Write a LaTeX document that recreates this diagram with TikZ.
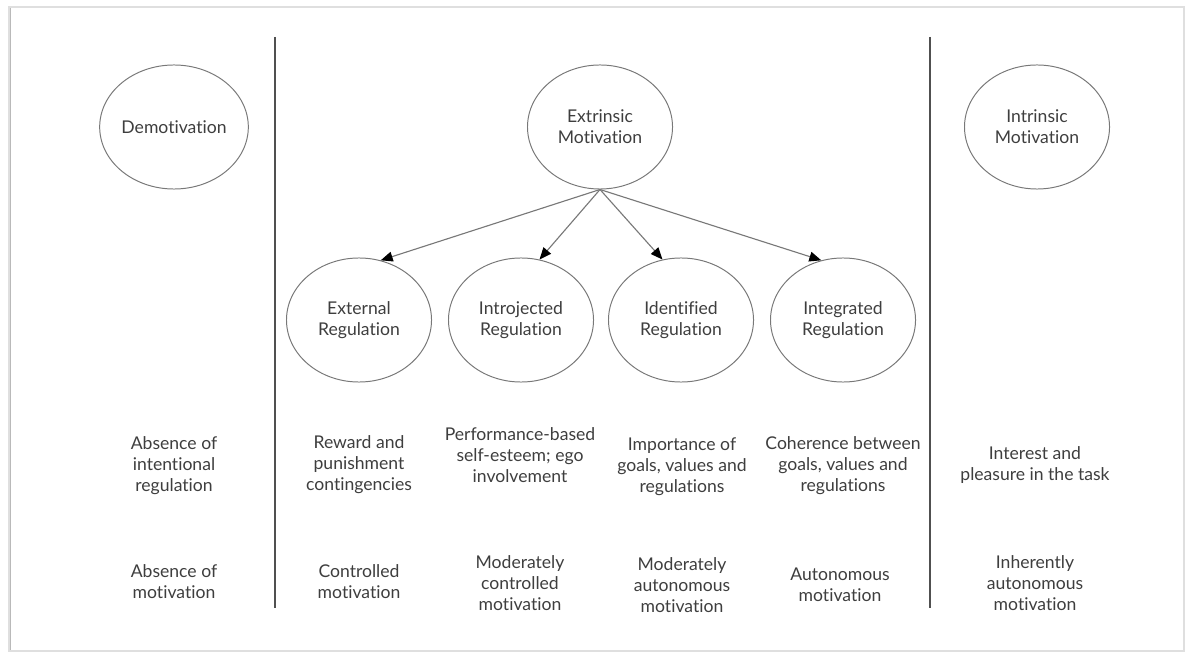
\documentclass[tikz,border=0pt]{standalone}
\usepackage{fontspec}
\setmainfont{Lato}[Ligatures=NoCommon]
\usepackage{tikz}
\usetikzlibrary{shapes.geometric,arrows.meta}
\definecolor{txt}{RGB}{62,62,62}
\definecolor{edge}{RGB}{120,120,120}
\definecolor{rule}{RGB}{80,80,80}
\tikzset{
  circ/.style={ellipse,draw=edge,line width=0.7pt,minimum width=3.625cm,minimum height=3.1cm,inner sep=0pt,align=center,text=txt},
  lab/.style={align=center,text=txt,inner sep=0pt},
  arr/.style={draw=edge,line width=0.8pt,-{Triangle[length=8.5pt,width=7pt,color=black]}},
  divline/.style={draw=rule,line width=1pt}
}

\begin{document}
\begin{tikzpicture}[x=0.025cm,y=-0.025cm,font=\fontsize{12.5}{15}\selectfont]
\useasboundingbox (0,0) rectangle (1188,655);
\draw[gray!25,line width=0.8pt](9,7) rectangle (1184,651);
\draw[gray!55,line width=0.6pt](10,8)--(10,650);
\draw[divline](275,37)--(275,608);
\draw[divline](930,37)--(930,608);
\node[circ](demot)at(174,127){Demotivation};
\node[circ](extr)at(600,127){Extrinsic\\Motivation};
\node[circ](intr)at(1037,127){Intrinsic\\Motivation};
\node[circ](exreg)at(359,320){External\\Regulation};
\node[circ](inreg)at(521,320){Introjected\\Regulation};
\node[circ](idreg)at(681,320){Identified\\Regulation};
\node[circ](itreg)at(843,320){Integrated\\Regulation};
\draw[arr](extr.south)--(exreg.70);
\draw[arr](extr.south)--(inreg.73);
\draw[arr](extr.south)--(idreg.107);
\draw[arr](extr.south)--(itreg.110);
\node[lab](absreg)at(174,466){Absence of\\intentional\\regulation};
\node[lab](rewpun)at(359,465){Reward and\\punishment\\contingencies};
\node[lab](perfse)at(520,455){Performance-based\\self-esteem; ego\\involvement};
\node[lab](impgoal)at(682,467){Importance of\\goals, values and\\regulations};
\node[lab](cohgoal)at(843,466){Coherence between\\goals, values and\\regulations};
\node[lab](intpl)at(1035,465){Interest and\\pleasure in the task};
\node[lab](absmot)at(174,582){Absence of\\motivation};
\node[lab](ctrlmot)at(359,582){Controlled\\motivation};
\node[lab](modctrl)at(520,583){Moderately\\controlled\\motivation};
\node[lab](modaut)at(682,585){Moderately\\autonomous\\motivation};
\node[lab](autmot)at(840,585){Autonomous\\motivation};
\node[lab](inhaut)at(1035,583){Inherently\\autonomous\\motivation};
\end{tikzpicture}
\end{document}
